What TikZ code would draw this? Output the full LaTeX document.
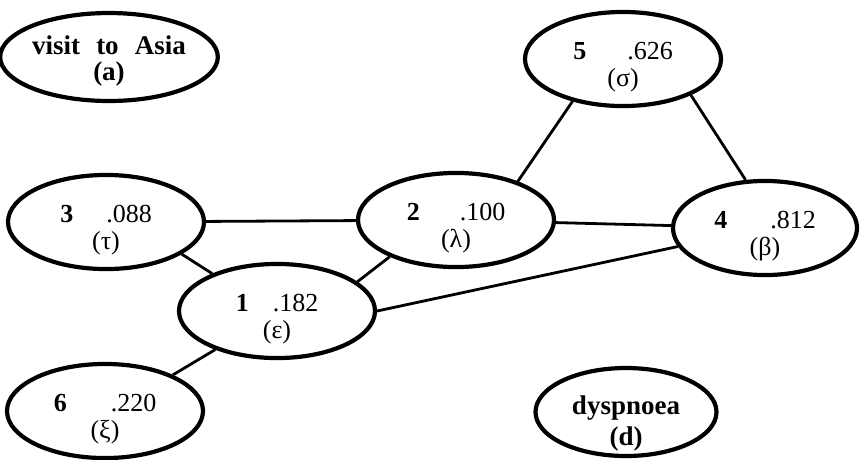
\documentclass[tikz,border=0pt]{standalone}
\usepackage{fontspec}
\setmainfont{Liberation Serif}
\usetikzlibrary{shapes.geometric}

% one numbered variable: number, gap, marginal, greek name
\newcommand{\varlabel}[4]{\rule{0pt}{34pt}\textbf{#1}\hspace{#2}#3\\(#4)}

\tikzset{
  var/.style = {draw, shape = ellipse, line width = 4.2pt, inner sep = 0pt,
    minimum width = 196pt, minimum height = 88pt, align = center,
    font = \fontsize{26}{27}\selectfont},
  obs/.style = {var, inner ysep = -12pt, text depth = 0pt,
    font = \fontsize{27}{26}\selectfont\bfseries},
  link/.style = {line width = 2.8pt}
}

\begin{document}
\begin{tikzpicture}[x = 1pt, y = -1pt]
\useasboundingbox (0,0) rectangle (861,459);

\node[obs, text height = 46pt] (asia) at (109,57) {visit\hspace{.6em}to\hspace{.6em}Asia\\(a)};
\node[obs, minimum width = 181pt, text height = 66pt] (dysp) at (626,412) {dyspnoea\\[5pt](d)};

\node[var, minimum height = 84pt] (n3) at (106,222) {\varlabel{3}{33pt}{.088}{τ}};
\node[var, minimum height = 92pt] (n2) at (456,220) {\varlabel{2}{40pt}{.100}{λ}};
\node[var, minimum width = 184pt] (n4) at (765,228) {\varlabel{4}{43pt}{.812}{β}};
\node[var] (n5) at (623,59) {\varlabel{5}{41pt}{.626}{σ}};
\node[var, minimum height = 90pt] (n1) at (277,311) {\varlabel{1}{24pt}{.182}{ε}};
\node[var, minimum height = 90pt] (n6) at (105,411) {\varlabel{6}{44pt}{.220}{ξ}};

% edges of the graph
\draw[link] (n3) -- (n2);
\draw[link] (n2) -- (n4);
\draw[link] (n2.32) -- (n5.220);
\draw[link] (n5.332) -- (n4.112);
\draw[link] (n3.337) -- (n1.150);
\draw[link] (n2.209) -- (n1.20);
\draw[link] (n1.east) -- (n4.192);
\draw[link] (n1.212) -- (n6.28);
\end{tikzpicture}
\end{document}
